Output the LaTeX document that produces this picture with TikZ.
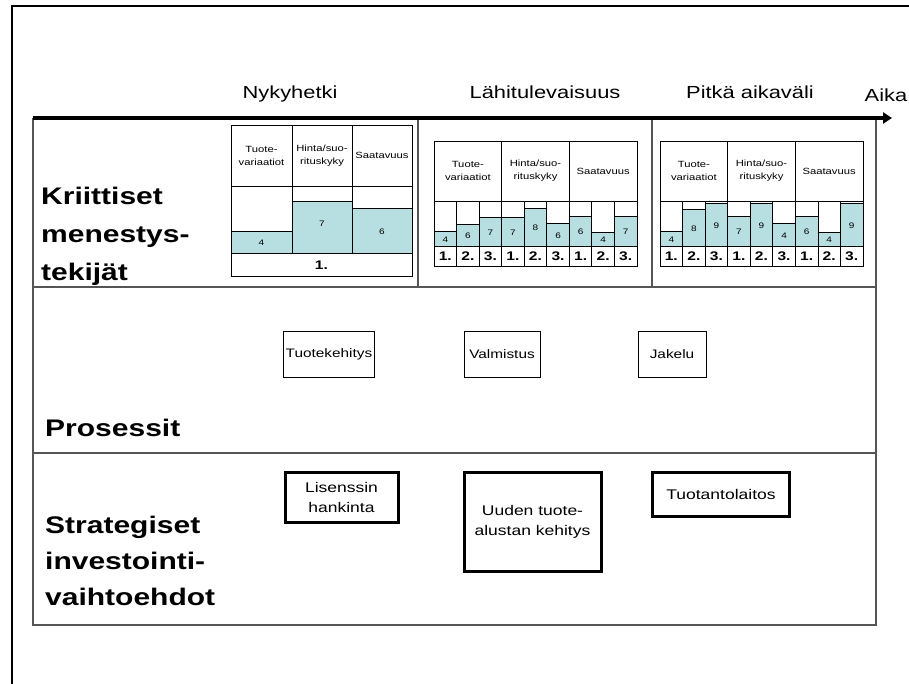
\documentclass[tikz,border=0pt]{standalone}
\usepackage{fontspec}
\setmainfont{Liberation Sans}[FakeStretch=1.25]
\usetikzlibrary{arrows.meta}
\definecolor{barfill}{RGB}{183,222,224}
\definecolor{rulegray}{RGB}{85,85,85}
\newcommand\fsz[2]{\fontsize{#1}{#2}\selectfont}

\tikzset{
  frameline/.style={draw=rulegray, line width=1.5},
  gridline/.style={draw=black, line width=0.8},
  barcell/.style={fill=barfill, draw=black, line width=0.8},
  period/.style={anchor=base, inner sep=0, font=\fsz{17.5}{21}},
  rowlabel/.style={anchor=base west, align=left, inner sep=0, font=\bfseries\fsz{24}{38}},
  procbox/.style={draw=black, line width=0.9, inner sep=0, font=\fsz{12.3}{14}},
  investbox/.style={draw=black, line width=3, inner sep=0, align=center, font=\fsz{14}{20}},
  hdr/.style={align=center, inner sep=0, font=\fsz{9}{13}},
  val/.style={inner sep=0, font=\fsz{8}{9}},
  ord/.style={inner sep=0, font=\bfseries\fsz{12.5}{14}},
}

% A factor table with three factors, each rated at three points in time.
% #1 left edge, #2 node-name prefix, #3 list of bar height / value
\newcommand\periodtable[3]{%
  \begin{scope}[xshift=#1]
    \foreach \h/\v [count=\i from 0] in {#3} {
      \pgfmathtruncatemacro\k{mod(\i,3)+1}
      \filldraw[barcell] ({\i*203/9},{246-\h}) rectangle ({(\i+1)*203/9},246);
      \draw[gridline] ({\i*203/9},201) -- ({\i*203/9},266);
      \node[val] (#2v\i) at ({(\i+0.5)*203/9},{246-\h/2+1}) {\v};
      \node[ord] (#2o\i) at ({(\i+0.5)*203/9},256.5) {\k.};
    }
    \draw[gridline] (0,141) rectangle (203,266);
    \draw[gridline] (0,201) -- (203,201) (0,246) -- (203,246);
    \draw[gridline] ({203/3},141) -- ({203/3},201) ({2*203/3},141) -- ({2*203/3},201);
    \node[hdr] (#2h1) at ({203/6},171) {Tuote-\\variaatiot};
    \node[hdr] (#2h2) at ({203/2},171) {Hinta/suo-\\rituskyky};
    \node[hdr] (#2h3) at ({5*203/6},171) {Saatavuus};
  \end{scope}}

\begin{document}
\begin{tikzpicture}[x=1pt,y=-1pt]
\useasboundingbox (0,0) rectangle (909,683);

% page frame
\draw[line width=2] (12,700) -- (12,6) -- (930,6);

% time axis
\coordinate (tstart) at (33,118);
\coordinate (tend) at (892,118);
\node[period] (now) at (290,98) {Nykyhetki};
\node[period] (near) at (545,98) {Lähitulevaisuus};
\node[period] (far) at (750,98) {Pitkä aikaväli};
\node[period] (time) at (886,101) {Aika};

% rows of the chart
\draw[frameline] (33,118) -- (33,625) -- (876,625) -- (876,118);
\draw[frameline] (33,287) -- (876,287) (33,453) -- (876,453);
\draw[frameline] (418,118) -- (418,287) (652,118) -- (652,287);
\draw[line width=3.5, -{Triangle[length=9,width=11]}] (tstart) -- (tend);

% row titles (anchored on the baseline of their last line)
\node[rowlabel] (csf) at (41,280) {Kriittiset\\menestys-\\tekijät};
\node[rowlabel] (proc) at (45,436) {Prosessit};
\node[rowlabel, font=\bfseries\fsz{24}{36}] (inv) at (45,605) {Strategiset\\investointi-\\vaihtoehdot};

% present: single rating
\filldraw[barcell] (231,231) rectangle (292,253);
\filldraw[barcell] (292,201) rectangle (352,253);
\filldraw[barcell] (352,208) rectangle (412,253);
\draw[gridline] (231,125) rectangle (412,276);
\draw[gridline] (292,125) -- (292,253) (352,125) -- (352,253);
\draw[gridline] (231,186) -- (412,186) (231,253) -- (412,253);
\node[hdr] (ah1) at (261.5,155.5) {Tuote-\\variaatiot};
\node[hdr] (ah2) at (322,155.5) {Hinta/suo-\\rituskyky};
\node[hdr] (ah3) at (382,155.5) {Saatavuus};
\node[val] (av1) at (261.5,243) {4};
\node[val] (av2) at (322,224) {7};
\node[val] (av3) at (382,232) {6};
\node[ord] (ao1) at (321.5,265) {1.};

% near future and long term
\periodtable{434}{b}{15/4,22/6,29/7,29/7,38/8,23/6,30/6,14/4,30/7}
\periodtable{660}{c}{15/4,37/8,43/9,30/7,43/9,23/4,30/6,14/4,43/9}

% processes
\node[procbox, minimum width=91, minimum height=46] (p1) at (329,354) {Tuotekehitys};
\node[procbox, minimum width=76, minimum height=46] (p2) at (502,354) {Valmistus};
\node[procbox, minimum width=68, minimum height=46] (p3) at (672,354) {Jakelu};

% investment options
\node[investbox, minimum width=113, minimum height=50] (i1) at (341.5,497.5) {Lisenssin\\hankinta};
\node[investbox, minimum width=137, minimum height=99] (i2) at (532.5,522) {Uuden tuote-\\alustan kehitys};
\node[investbox, minimum width=137, minimum height=44] (i3) at (721,494.5) {Tuotantolaitos};
\end{tikzpicture}
\end{document}
